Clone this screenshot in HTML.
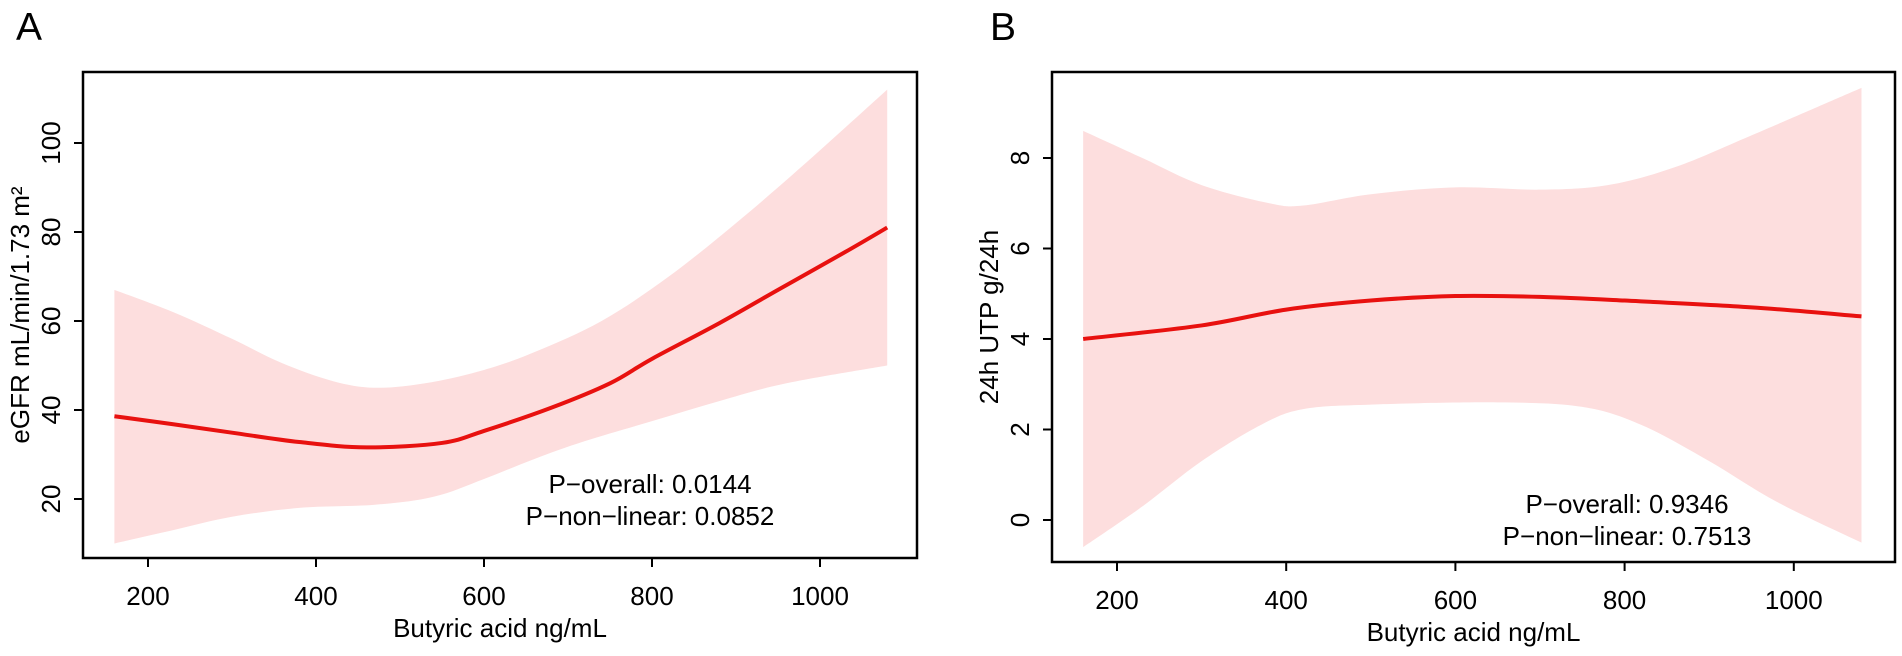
<!DOCTYPE html>
<html><head><meta charset="utf-8"><style>
html,body{margin:0;padding:0;background:#fff;}
svg{display:block;font-family:"Liberation Sans",Arial,sans-serif;}
</style></head>
<body>
<svg id="chart" width="1902" height="656" viewBox="0 0 1902 656">
<text x="16" y="40" font-size="39">A</text>
<text x="990" y="40" font-size="39">B</text>
</svg>
<script>
// Panel A data
const xA = [160, 230, 300, 380, 460, 550, 600, 680, 750, 800, 880, 950, 1030, 1080];
const fitA = [38.6, 36.8, 34.9, 32.8, 31.6, 32.6, 35.3, 40.5, 46, 51.5, 59.5, 67, 75.5, 81];
const xAu = [160, 230, 300, 360, 420, 470, 530, 600, 660, 740, 820, 900, 980, 1080];
const upA = [67, 62, 56, 50.5, 46.5, 45, 46, 49, 53, 60, 70, 82, 95, 112];
const xAl = [160, 230, 300, 380, 470, 540, 600, 660, 720, 800, 880, 960, 1080];
const loA = [10, 13, 16, 18, 18.7, 20.5, 24.5, 29, 33, 37.5, 42, 46, 50];
const ticksAx = [200, 400, 600, 800, 1000];
const ticksAy = [20, 40, 60, 80, 100];
// Panel B data
const xB = [160, 300, 400, 500, 600, 700, 800, 950, 1080];
const fitB = [4.0, 4.3, 4.65, 4.85, 4.95, 4.93, 4.85, 4.7, 4.5];
const xBu = [160, 230, 300, 380, 420, 500, 600, 700, 780, 860, 950, 1080];
const upB = [8.6, 8.0, 7.4, 7.0, 6.95, 7.2, 7.35, 7.3, 7.4, 7.8, 8.5, 9.55];
const xBl = [160, 230, 300, 370, 420, 500, 650, 750, 820, 900, 980, 1080];
const loB = [-0.6, 0.3, 1.3, 2.1, 2.45, 2.55, 2.6, 2.5, 2.1, 1.3, 0.4, -0.5];
const ticksBx = [200, 400, 600, 800, 1000];
const ticksBy = [0, 2, 4, 6, 8];

const NS = "http://www.w3.org/2000/svg";
const svg = document.getElementById('chart');
function mk(tag, attrs, parent){const e=document.createElementNS(NS,tag);for(const k in attrs)e.setAttribute(k,attrs[k]);(parent||svg).appendChild(e);return e;}
function smooth(pts){
  let d = `M${pts[0][0]},${pts[0][1]}`;
  for(let i=0;i<pts.length-1;i++){
    const p0=pts[Math.max(i-1,0)],p1=pts[i],p2=pts[i+1],p3=pts[Math.min(i+2,pts.length-1)];
    const c1=[p1[0]+(p2[0]-p0[0])/6,p1[1]+(p2[1]-p0[1])/6];
    const c2=[p2[0]-(p3[0]-p1[0])/6,p2[1]-(p3[1]-p1[1])/6];
    d+=` C${c1[0]},${c1[1]} ${c2[0]},${c2[1]} ${p2[0]},${p2[1]}`;
  }
  return d;
}
function panel(cfg){
  const {box,sx,sy,xs,fit,xu,up,xl,lo,tx,ty,ylabel,p1,pname}=cfg;
  const g = mk('g',{});
  
  
  const upPts = xu.map((v,i)=>[sx(v),sy(up[i])]);
  const loPts = xl.map((v,i)=>[sx(v),sy(lo[i])]).reverse();
  let d = smooth(upPts) + ' L' + loPts[0][0] + ',' + loPts[0][1] + smooth(loPts).replace(/^M[^C]*/, ' ') + ' Z';
  const band = mk('path',{d:d,fill:'#fddede',stroke:'none'},g);
  
  
  const line = mk('path',{d:smooth(xs.map((v,i)=>[sx(v),sy(fit[i])])),fill:'none',stroke:'#e8110f','stroke-width':4},g);
  
  
  const frame = mk('rect',{x:box[0],y:box[1],width:box[2]-box[0],height:box[3]-box[1],fill:'none',stroke:'#000','stroke-width':2.5},g);
  
  
  tx.forEach(t=>{
    const x=sx(t);
    const tk = mk('line',{x1:x,x2:x,y1:box[3],y2:box[3]+9,stroke:'#000','stroke-width':2},g);
    
    
    const lb = mk('text',{x:x,y:box[3]+47,'font-size':26,'text-anchor':'middle'},g);
    lb.textContent=t;
    
    
  });
  ty.forEach(t=>{
    const y=sy(t);
    const tk = mk('line',{x1:box[0]-9,x2:box[0],y1:y,y2:y,stroke:'#000','stroke-width':2},g);
    
    
    const lb = mk('text',{x:0,y:0,'font-size':26,'text-anchor':'middle',transform:`translate(${box[0]-23},${y}) rotate(-90)`},g);
    lb.textContent=t;
    
    
  });
  const xt = mk('text',{x:(box[0]+box[2])/2,y:box[3]+79,'font-size':26,'text-anchor':'middle'},g);
  xt.textContent='Butyric acid ng/mL';
  
  
  const yt = mk('text',{x:0,y:0,'font-size':26,'text-anchor':'middle',transform:`translate(${box[0]-54},${(box[1]+box[3])/2}) rotate(-90)`},g);
  yt.textContent=ylabel;
  
  
  const a1 = mk('text',{x:p1[0],y:p1[1],'font-size':26,'text-anchor':'middle'},g);
  a1.textContent=cfg.t1;
  
  
  const a2 = mk('text',{x:p1[0],y:p1[1]+32,'font-size':26,'text-anchor':'middle'},g);
  a2.textContent=cfg.t2;
  
  
}
panel({pname:'panel-a',box:[83,72,917,558],
  sx:v=>148+(v-200)*0.84, sy:v=>499-(v-20)*4.45,
  xs:xA,fit:fitA,xu:xAu,up:upA,xl:xAl,lo:loA,tx:ticksAx,ty:ticksAy,
  ylabel:'eGFR mL/min/1.73 m²',p1:[650,493],t1:'P\u2212overall: 0.0144',t2:'P\u2212non\u2212linear: 0.0852'});
panel({pname:'panel-b',box:[1052,72,1895,562],
  sx:v=>1117+(v-200)*0.846, sy:v=>520-v*45.25,
  xs:xB,fit:fitB,xu:xBu,up:upB,xl:xBl,lo:loB,tx:ticksBx,ty:ticksBy,
  ylabel:'24h UTP g/24h',p1:[1627,513],t1:'P\u2212overall: 0.9346',t2:'P\u2212non\u2212linear: 0.7513'});
</script>
</body></html>
